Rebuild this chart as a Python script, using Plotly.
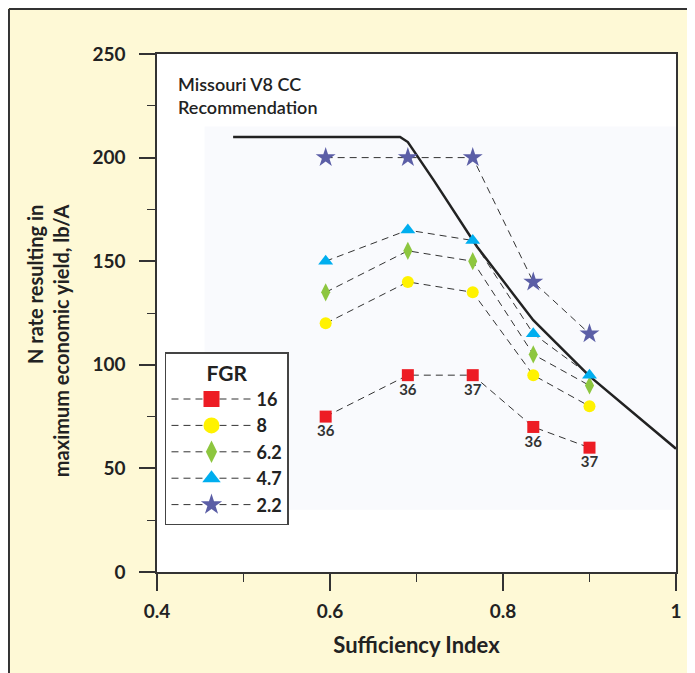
import plotly.graph_objects as go

# ---- data ----
si = [0.595, 0.69, 0.765, 0.835, 0.90]
fgr16 = [75, 95, 95, 70, 60]
fgr8 = [120, 140, 135, 95, 80]
fgr62 = [135, 155, 150, 105, 90]
fgr47 = [150, 165, 160, 115, 95]
fgr22 = [200, 200, 200, 140, 115]
labels16 = ["36", "36", "37", "36", "37"]
fgr_names = ["16", "8", "6.2", "4.7", "2.2"]

rec_x = [0.488, 0.60, 0.681, 0.690, 0.72, 0.77, 0.835, 0.90, 0.95, 1.0]
rec_y = [210, 210, 210, 207.5, 189, 157, 121.5, 94.5, 77, 59.5]

x_ticks = [0.4, 0.6, 0.8, 1.0]
x_ticklabels = ["0.4", "0.6", "0.8", "1"]
y_ticks = [0, 50, 100, 150, 200, 250]

FONT = "Lato"
TXT = "#222222"
dash = "7px,5px"

fig = go.Figure()

# faint shaded region behind data
fig.add_shape(type="rect", xref="x", yref="y", x0=0.455, x1=1.0, y0=30, y1=215,
              fillcolor="#f9fafd", line=dict(width=0), layer="below")

fig.add_trace(go.Scatter(x=rec_x, y=rec_y, mode="lines", showlegend=False,
                         line=dict(color="#222222", width=2.5), hoverinfo="skip"))

series_vals = [fgr16, fgr8, fgr62, fgr47, fgr22]
symbols = ["square", "circle", "diamond-tall", "triangle-up", "star"]
colors = ["#ed1c24", "#fff200", "#8dc63f", "#00aeef", "#5b5ea6"]
plot_sizes = [12, 12, 13, 13, 15]
legend_sizes = [16, 16, 16, 16, 16]

for name, vals, sym, col, sz, lsz in zip(fgr_names, series_vals, symbols, colors, plot_sizes, legend_sizes):
    if name == "16":
        kw = dict(mode="lines+markers+text", text=labels16, textposition="bottom center",
                  textfont=dict(family=FONT, size=15, color="#333333", weight="bold"))
    else:
        kw = dict(mode="lines+markers")
    fig.add_trace(go.Scatter(
        x=si, y=vals, name=name, legendgroup=name, showlegend=False,
        line=dict(color="#333333", width=1, dash=dash),
        marker=dict(symbol=sym, color=col, size=sz, line=dict(width=0)),
        **kw))
    # legend entry (larger symbol, as in the original key)
    fig.add_trace(go.Scatter(
        x=[None], y=[None], name=name, legendgroup=name, mode="lines+markers",
        line=dict(color="#333333", width=1, dash=dash),
        marker=dict(symbol=sym, color=col, size=lsz, line=dict(width=0))))

# outer frame
fig.add_shape(type="line", xref="paper", yref="paper", x0=-0.2852, x1=1.1, y0=1.0869, y1=1.0869,
              line=dict(color="#333333", width=2))
fig.add_shape(type="line", xref="paper", yref="paper", x0=-0.2852, x1=-0.2852, y0=1.0869, y1=-0.25,
              line=dict(color="#333333", width=2))

fig.add_annotation(xref="paper", yref="paper", x=0.036, y=0.919, xanchor="left", yanchor="middle",
                   text="Missouri V8 CC<br>Recommendation", showarrow=False, align="left",
                   font=dict(family=FONT, size=18, color=TXT, weight=600))

fig.add_annotation(xref="paper", yref="paper", x=-0.2096, y=0.446, xanchor="center", yanchor="middle",
                   text="<b>N rate resulting in<br>maximum economic yield, lb/A</b>", textangle=-90,
                   showarrow=False, align="right", font=dict(family=FONT, size=20, color=TXT))

fig.update_layout(
    width=687, height=665,
    margin=dict(l=149, r=19, t=46, b=101),
    paper_bgcolor="#fef9d6", plot_bgcolor="#ffffff",
    font=dict(family=FONT, color=TXT),
    xaxis=dict(range=[0.4, 1.0], tickvals=x_ticks, ticktext=x_ticklabels,
               ticks="outside", ticklen=17, tickwidth=1.5, tickcolor="#333333",
               minor=dict(dtick=0.1, ticks="outside", ticklen=8, tickwidth=1.2, tickcolor="#333333"),
               showline=True, linecolor="#333333", linewidth=1.5, mirror=True,
               showgrid=False, zeroline=False, ticklabelstandoff=4,
               tickfont=dict(family=FONT, size=19, color=TXT, weight="bold"),
               title=dict(text="<b>Sufficiency Index</b>", font=dict(family=FONT, size=22, color=TXT),
                          standoff=17)),
    yaxis=dict(range=[0, 250], tickvals=y_ticks,
               ticks="outside", ticklen=16, tickwidth=1.5, tickcolor="#333333",
               minor=dict(dtick=25, ticks="outside", ticklen=8, tickwidth=1.2, tickcolor="#333333"),
               showline=True, linecolor="#333333", linewidth=1.5, mirror=True,
               showgrid=False, zeroline=False, ticklabelstandoff=10,
               tickfont=dict(family=FONT, size=19, color=TXT, weight="bold")),
    legend=dict(x=0.0154, y=0.4247, xanchor="left", yanchor="top",
                bgcolor="#ffffff", bordercolor="#444444", borderwidth=1.5,
                font=dict(family=FONT, size=18, color=TXT, weight="bold"),
                title=dict(text="<b>FGR</b>", side="top center", font=dict(family=FONT, size=21)),
                itemwidth=80, tracegroupgap=0),
)

fig.write_html("out.html")
